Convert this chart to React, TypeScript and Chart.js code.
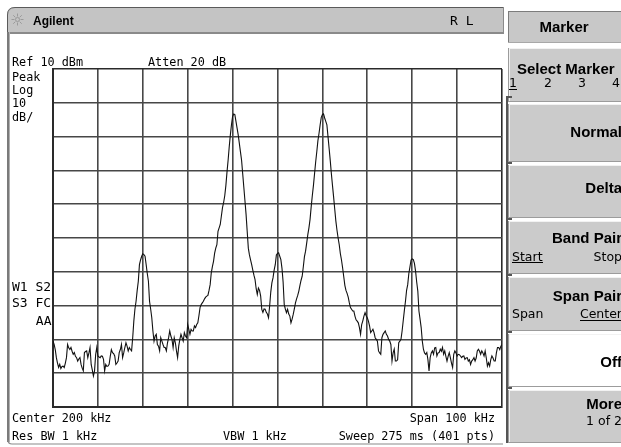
import React, { useEffect, useRef } from "react";
import { Chart, registerables } from "chart.js";

Chart.register(...registerables);

// ---- data ----
const START_KHZ = 150;
const STOP_KHZ = 250;
const REF_DBM = 10;
const BOTTOM_DBM = -90;
const DB_PER_DIV = 10;
const KHZ_PER_DIV = 10;

// 401-point trace (dBm)
const TRACE_DBM = [
  -70.5, -71.5, -73.0, -75.4, -77.0, -78.3, -77.4, -78.6, -78.0, -77.9,
  -78.3, -77.0, -75.4, -71.5, -72.5, -73.0, -72.4, -73.5, -74.4, -73.9,
  -75.0, -75.4, -76.4, -75.8, -75.4, -77.4, -78.5, -79.3, -73.9, -73.6,
  -73.4, -75.4, -74.0, -72.4, -77.4, -79.0, -80.8, -79.3, -74.5, -72.4,
  -74.9, -75.2, -75.4, -74.9, -75.0, -75.9, -79.3, -77.4, -78.0, -77.9,
  -77.4, -75.0, -73.0, -73.9, -74.2, -74.9, -77.4, -77.0, -76.4, -73.9,
  -73.0, -71.5, -75.4, -74.0, -72.4, -71.0, -72.0, -73.4, -72.4, -73.0,
  -73.4, -69.5, -64.6, -61.0, -58.7, -55.5, -52.8, -47.9, -46.5, -45.4,
  -44.7, -44.9, -45.4, -47.9, -50.5, -52.8, -58.7, -61.0, -63.6, -67.5,
  -70.5, -69.0, -68.5, -71.5, -72.0, -73.4, -69.5, -70.5, -71.5, -72.4,
  -72.4, -73.4, -71.0, -69.5, -67.5, -69.0, -70.0, -72.4, -69.5, -71.0,
  -73.4, -75.4, -72.0, -70.0, -68.5, -69.5, -70.5, -68.0, -69.0, -69.5,
  -65.6, -67.0, -68.5, -67.0, -67.5, -67.5, -66.0, -66.5, -65.6, -65.1,
  -63.0, -60.6, -59.7, -59.2, -58.7, -58.0, -57.5, -57.2, -57.0, -55.5,
  -53.8, -50.3, -48.5, -46.9, -44.5, -43.0, -42.0, -38.0, -37.0, -36.0,
  -33.5, -31.0, -29.5, -27.5, -24.5, -20.5, -17.0, -13.0, -9.5, -6.5,
  -4.0, -3.3, -3.5, -5.5, -7.5, -9.5, -12.0, -14.5, -17.0, -21.0,
  -25.0, -29.0, -33.0, -38.0, -43.0, -45.0, -46.5, -47.9, -49.5, -51.0,
  -52.3, -55.0, -56.7, -54.8, -55.5, -57.2, -61.1, -62.0, -61.0, -61.1,
  -62.0, -62.5, -63.6, -60.1, -56.0, -53.3, -51.8, -49.5, -47.9, -45.0,
  -44.6, -44.4, -45.4, -46.4, -49.0, -53.0, -59.7, -61.0, -62.1, -61.1,
  -62.5, -63.1, -65.1, -64.0, -62.6, -61.0, -59.2, -58.0, -57.0, -55.7,
  -54.0, -52.5, -51.3, -48.5, -45.5, -43.9, -41.5, -39.0, -37.0, -34.5,
  -30.8, -27.5, -24.5, -21.0, -17.5, -14.5, -11.2, -9.0, -6.5, -4.3,
  -3.5, -3.3, -4.5, -5.5, -6.5, -10.0, -13.5, -17.1, -21.0, -24.5,
  -27.9, -31.5, -35.0, -37.7, -40.0, -42.0, -44.6, -46.5, -48.8, -51.4,
  -54.0, -55.5, -56.4, -57.5, -59.2, -60.6, -61.1, -61.6, -61.6, -63.1,
  -64.2, -64.6, -65.1, -66.5, -68.5, -65.6, -64.5, -63.1, -62.1, -63.0,
  -63.6, -64.6, -66.0, -68.0, -67.5, -67.0, -68.0, -69.5, -70.0, -70.5,
  -73.4, -74.0, -74.4, -69.5, -68.5, -68.0, -67.5, -68.5, -69.0, -70.0,
  -70.5, -71.5, -76.4, -74.0, -72.9, -76.4, -76.4, -76.0, -71.0, -70.5,
  -70.0, -67.5, -64.5, -61.5, -58.7, -55.5, -53.8, -50.5, -48.5, -46.5,
  -46.2, -46.4, -47.5, -49.8, -53.0, -55.7, -61.6, -64.0, -66.5, -70.5,
  -72.9, -74.0, -74.4, -73.9, -76.0, -79.3, -75.4, -74.0, -73.4, -74.4,
  -72.5, -72.4, -74.9, -74.0, -73.9, -72.9, -73.5, -72.4, -74.4, -73.4,
  -75.0, -76.4, -75.0, -73.9, -75.4, -77.0, -78.3, -74.4, -73.4, -74.0,
  -74.9, -74.4, -74.5, -74.9, -75.4, -75.0, -74.9, -75.9, -75.5, -75.4,
  -76.4, -76.0, -77.4, -76.4, -76.0, -75.4, -76.4, -75.5, -73.4, -72.9,
  -73.5, -74.4, -73.4, -74.0, -74.9, -73.4, -75.5, -77.9, -76.9, -77.9,
  -76.0, -74.9, -75.5, -76.4, -76.4, -74.0, -72.4, -72.4, -73.0, -72.0,
  -71.5,
];

// ---- texts ----
const TITLE = "Agilent";
const STATUS = "R L";
const REF_LABEL = "Ref 10 dBm";
const ATTEN_LABEL = "Atten 20 dB";
const LEFT_LABELS = ["Peak", "Log", "10", "dB/"];
const FLAG_LABELS = ["W1 S2", "S3 FC", "AA"];
const CENTER_LABEL = "Center 200 kHz";
const SPAN_LABEL = "Span 100 kHz";
const RBW_LABEL = "Res BW 1 kHz";
const VBW_LABEL = "VBW 1 kHz";
const SWEEP_LABEL = "Sweep 275 ms (401 pts)";
const MENU_TITLE = "Marker";
const MARKER_NUMBERS = ["1", "2", "3", "4"];

const W = 621;
const H = 447;

const MONO = '"DejaVu Sans Mono", monospace';
const SANS = '"DejaVu Sans", sans-serif';
const BOLD = 'bold 15px "Liberation Sans", Arial, sans-serif';

function txt(ctx: CanvasRenderingContext2D, s: string, x: number, y: number, font: string, align: CanvasTextAlign = "left", color = "#000") {
  ctx.font = font;
  ctx.textAlign = align;
  ctx.textBaseline = "alphabetic";
  ctx.fillStyle = color;
  ctx.fillText(s, x, y);
}

function underline(ctx: CanvasRenderingContext2D, s: string, x: number, y: number, font: string, align: "left" | "right" | "center") {
  ctx.font = font;
  const w = ctx.measureText(s).width;
  let x0 = x;
  if (align === "right") x0 = x - w;
  if (align === "center") x0 = x - w / 2;
  ctx.fillStyle = "#000";
  ctx.fillRect(Math.round(x0), y, Math.round(w), 1);
}

const chromePlugin = {
  id: "chrome",
  beforeDraw(chart: any) {
    const ctx: CanvasRenderingContext2D = chart.ctx;
    ctx.save();
    ctx.fillStyle = "#ffffff";
    ctx.fillRect(0, 0, W, H);

    // title bar
    ctx.beginPath();
    const tx = 7, ty = 7, tw = 497, th = 25, r = 8;
    ctx.moveTo(tx, ty + th);
    ctx.lineTo(tx, ty + r);
    ctx.quadraticCurveTo(tx, ty, tx + r, ty);
    ctx.lineTo(tx + tw, ty);
    ctx.lineTo(tx + tw, ty + th);
    ctx.closePath();
    ctx.fillStyle = "#c4c4c4";
    ctx.fill();
    ctx.beginPath();
    ctx.moveTo(tx + 0.5, ty + th);
    ctx.lineTo(tx + 0.5, ty + r);
    ctx.quadraticCurveTo(tx + 0.5, ty + 0.5, tx + r, ty + 0.5);
    ctx.lineTo(tx + tw, ty + 0.5);
    ctx.strokeStyle = "#5a5a5a";
    ctx.lineWidth = 1;
    ctx.stroke();
    ctx.fillStyle = "#8a8a8a";
    ctx.fillRect(tx, ty + th, tw, 2);
    ctx.fillRect(tx + tw - 1, ty, 1, th + 2);

    // sun icon
    ctx.strokeStyle = "#9a9a9a";
    ctx.lineWidth = 1;
    const cx = 17.5, cy = 19.5;
    for (let k = 0; k < 8; k++) {
      const a = (k * Math.PI) / 4;
      ctx.beginPath();
      ctx.moveTo(cx + Math.cos(a) * 3, cy + Math.sin(a) * 3);
      ctx.lineTo(cx + Math.cos(a) * 6, cy + Math.sin(a) * 6);
      ctx.stroke();
    }
    ctx.beginPath();
    ctx.arc(cx, cy, 2, 0, Math.PI * 2);
    ctx.stroke();

    // left and bottom frame of main panel
    ctx.fillStyle = "#7a7a7a";
    ctx.fillRect(7, 32, 2, 410);
    ctx.fillStyle = "#b0b0b0";
    ctx.fillRect(9, 32, 1, 410);
    ctx.beginPath();
    ctx.moveTo(8, 440);
    ctx.quadraticCurveTo(8, 444, 12, 444);
    ctx.lineTo(503, 444);
    ctx.strokeStyle = "#8a8a8a";
    ctx.lineWidth = 1.2;
    ctx.stroke();

    // softkey panel
    const bx = 508, bw = W - bx + 4;
    // header
    ctx.fillStyle = "#c8c8c8";
    ctx.fillRect(bx, 11, bw, 32);
    ctx.fillStyle = "#7c7c7c";
    ctx.fillRect(bx, 11, bw, 1);
    ctx.fillRect(bx, 11, 1, 32);
    ctx.fillStyle = "#a8a8a8";
    ctx.fillRect(bx, 42, bw, 1);

    const buttons: [number, number, string][] = [
      [48, 102, "#cbcbcb"],
      [104, 162, "#cbcbcb"],
      [165, 218, "#cbcbcb"],
      [221, 274, "#cbcbcb"],
      [277, 331, "#cbcbcb"],
      [334, 387, "#ffffff"],
      [390, 443, "#cbcbcb"],
    ];
    for (const [y0, y1, col] of buttons) {
      ctx.fillStyle = col;
      ctx.fillRect(bx, y0, bw, y1 - y0);
      ctx.fillStyle = "#f2f2f2";
      ctx.fillRect(bx + 1, y0, bw, 1);
      ctx.fillRect(bx + 1, y0, 1, y1 - y0);
      ctx.fillStyle = "#9c9c9c";
      ctx.fillRect(bx, y1 - 1, bw, 1);
      ctx.fillRect(bx, y0, 1, y1 - y0);
    }
    // bracket line
    ctx.fillStyle = "#555555";
    ctx.fillRect(506, 96, 2, 347);
    for (const y of [96, 162, 218, 274, 331, 387]) {
      ctx.fillRect(506, y, 6, 2);
    }
    ctx.restore();
  },
  afterDraw(chart: any) {
    const ctx: CanvasRenderingContext2D = chart.ctx;
    ctx.save();
    const small = `11.8px ${MONO}`;
    const flag = `13px ${MONO}`;
    const sub = `12.5px ${SANS}`;

    // title
    txt(ctx, TITLE, 33, 24.5, 'bold 12px "Liberation Sans", Arial, sans-serif');
    txt(ctx, STATUS, 450, 25, `13px ${MONO}`);

    // header labels
    txt(ctx, REF_LABEL, 12, 66, small);
    txt(ctx, ATTEN_LABEL, 148, 66, small);
    LEFT_LABELS.forEach((s, i) => txt(ctx, s, 12, 81 + i * 13.2, small));

    // flags
    txt(ctx, FLAG_LABELS[0], 12, 290.5, flag);
    txt(ctx, FLAG_LABELS[1], 12, 307, flag);
    txt(ctx, FLAG_LABELS[2], 51.5, 325, flag, "right");

    // bottom labels
    txt(ctx, CENTER_LABEL, 12, 421.5, small);
    txt(ctx, RBW_LABEL, 12, 439.5, small);
    txt(ctx, VBW_LABEL, 223, 439.5, small);
    txt(ctx, SPAN_LABEL, 495, 421.5, small, "right");
    txt(ctx, SWEEP_LABEL, 495, 439.5, small, "right");

    // softkeys
    const R = 622;
    txt(ctx, MENU_TITLE, 564, 31.5, BOLD, "center");
    txt(ctx, "Select Marker", 517, 73.5, BOLD);
    const numX = [513, 548, 582, 616];
    MARKER_NUMBERS.forEach((s, i) => txt(ctx, s, numX[i], 87, sub, "center"));
    underline(ctx, MARKER_NUMBERS[0], numX[0], 89, sub, "center");
    txt(ctx, "Normal", R, 136.7, BOLD, "right");
    txt(ctx, "Delta", R, 193.3, BOLD, "right");
    txt(ctx, "Band Pair", R, 242.7, BOLD, "right");
    txt(ctx, "Start", 512, 260.5, sub);
    underline(ctx, "Start", 512, 262, sub, "left");
    txt(ctx, "Stop", R, 260.5, sub, "right");
    txt(ctx, "Span Pair", R, 300.7, BOLD, "right");
    txt(ctx, "Span", 512, 318, sub);
    txt(ctx, "Center", R, 318, sub, "right");
    underline(ctx, "Center", R, 320, sub, "right");
    txt(ctx, "Off", R, 366.5, BOLD, "right");
    txt(ctx, "More", R, 409, BOLD, "right");
    txt(ctx, "1 of 2", R, 425, sub, "right");
    ctx.restore();
  },
};

export default function App() {
  const ref = useRef<HTMLCanvasElement | null>(null);

  useEffect(() => {
    if (!ref.current) return;
    const n = TRACE_DBM.length;
    const step = (STOP_KHZ - START_KHZ) / (n - 1);
    const points = TRACE_DBM.map((v, i) => ({ x: START_KHZ + i * step, y: v }));

    const gridColor = (edgeValues: number[]) => (c: any) =>
      c.tick && edgeValues.includes(c.tick.value) ? "#2a2a2a" : "#474747";

    const chart = new Chart(ref.current, {
      type: "line",
      data: {
        datasets: [
          {
            data: points,
            borderColor: "#111111",
            borderWidth: 1.1,
            pointRadius: 0,
            tension: 0,
            fill: false,
          },
        ],
      },
      options: {
        animation: false,
        responsive: false,
        devicePixelRatio: 1,
        events: [],
        layout: { padding: { left: 53, top: 69, right: W - 502, bottom: H - 407 } },
        plugins: { legend: { display: false }, tooltip: { enabled: false }, title: { display: false } },
        scales: {
          x: {
            type: "linear",
            min: START_KHZ,
            max: STOP_KHZ,
            ticks: { display: false, stepSize: KHZ_PER_DIV },
            grid: { drawTicks: false, color: gridColor([STOP_KHZ]), lineWidth: 1.6 },
            border: { display: true, color: "#2a2a2a", width: 2 },
          },
          y: {
            type: "linear",
            min: BOTTOM_DBM,
            max: REF_DBM,
            ticks: { display: false, stepSize: DB_PER_DIV },
            grid: { drawTicks: false, color: gridColor([REF_DBM]), lineWidth: 1.6 },
            border: { display: true, color: "#2a2a2a", width: 2 },
          },
        },
      },
      plugins: [chromePlugin],
    });
    return () => chart.destroy();
  }, []);

  return (
    <div style={{ position: "fixed", left: 0, top: 0, width: W, height: H, background: "#fff" }}>
      <canvas ref={ref} width={W} height={H} style={{ display: "block", width: W, height: H }} />
    </div>
  );
}
